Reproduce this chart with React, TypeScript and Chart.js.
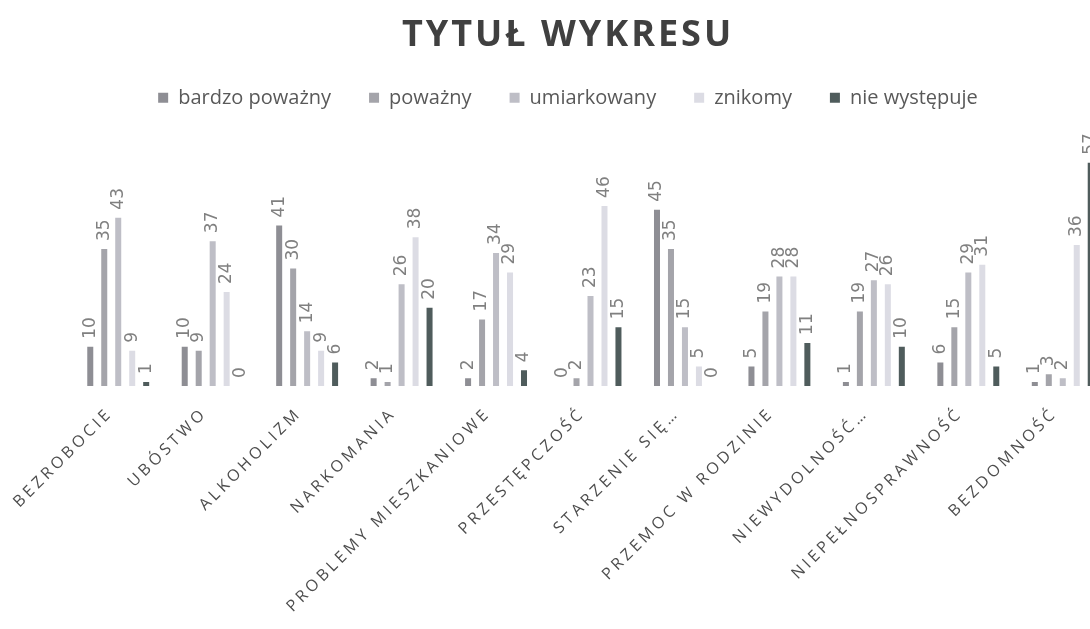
import React, { useEffect, useRef } from 'react';
import { Chart, registerables } from 'chart.js';

Chart.register(...registerables);

const categories = [
  'BEZROBOCIE',
  'UBÓSTWO',
  'ALKOHOLIZM',
  'NARKOMANIA',
  'PROBLEMY MIESZKANIOWE',
  'PRZESTĘPCZOŚĆ',
  'STARZENIE SIĘ…',
  'PRZEMOC W RODZINIE',
  'NIEWYDOLNOŚĆ…',
  'NIEPEŁNOSPRAWNOŚĆ',
  'BEZDOMNOŚĆ',
];

const seriesNames = ['bardzo poważny', 'poważny', 'umiarkowany', 'znikomy', 'nie występuje'];

const bardzoPowazny = [10, 10, 41, 2, 2, 0, 45, 5, 1, 6, 1];
const powazny = [35, 9, 30, 1, 17, 2, 35, 19, 19, 15, 3];
const umiarkowany = [43, 37, 14, 26, 34, 23, 15, 28, 27, 29, 2];
const znikomy = [9, 24, 9, 38, 29, 46, 5, 28, 26, 31, 36];
const nieWystepuje = [1, 0, 6, 20, 4, 15, 0, 11, 10, 5, 57];

const seriesColors = ['#8e8e94', '#a4a4aa', '#bebec6', '#dcdce4', '#4f5c5c'];

const yMin = 0;
const yMax = 68;

function wrapSpacing(obj: any, method: string, spacing: string) {
  if (!obj || obj['__wrapped_' + method]) return;
  const orig = obj[method];
  obj[method] = function (...args: any[]) {
    const ctx = this.ctx as any;
    const prev = ctx.letterSpacing;
    ctx.letterSpacing = spacing;
    try {
      return orig.apply(this, args);
    } finally {
      ctx.letterSpacing = prev;
    }
  };
  obj['__wrapped_' + method] = true;
}

const layoutPlugin = {
  id: 'layoutPlugin',
  beforeUpdate(chart: any) {
    const legend = chart.legend;
    if (legend && !legend.__fitWrapped) {
      const origFit = legend.fit;
      legend.fit = function (...args: any[]) {
        origFit.apply(this, args);
        this.height = 70;
      };
      legend.__fitWrapped = true;
    }
  },
  afterUpdate(chart: any) {
    wrapSpacing(chart.titleBlock, 'draw', '3px');
    wrapSpacing(chart.scales.x, 'drawLabels', '3.6px');
  },
};

const valueLabelPlugin = {
  id: 'valueLabelPlugin',
  afterDatasetsDraw(chart: any) {
    const ctx = chart.ctx;
    chart.data.datasets.forEach((ds: any, i: number) => {
      const meta = chart.getDatasetMeta(i);
      meta.data.forEach((bar: any, j: number) => {
        const v = ds.data[j];
        ctx.save();
        ctx.translate(bar.x, bar.y - 8);
        ctx.rotate(-Math.PI / 2);
        ctx.font = '17px "DejaVu Sans"';
        ctx.fillStyle = '#808080';
        ctx.textAlign = 'left';
        ctx.textBaseline = 'middle';
        ctx.fillText(String(v), 0, 0);
        ctx.restore();
      });
    });
  },
};

export default function App() {
  const canvasRef = useRef<HTMLCanvasElement | null>(null);

  useEffect(() => {
    if (!canvasRef.current) return;
    const allSeries = [bardzoPowazny, powazny, umiarkowany, znikomy, nieWystepuje];
    const chart = new Chart(canvasRef.current, {
      type: 'bar',
      data: {
        labels: categories,
        datasets: allSeries.map((data, i) => ({
          label: seriesNames[i],
          data,
          backgroundColor: seriesColors[i],
          borderWidth: 0,
          categoryPercentage: 0.74,
          barPercentage: 0.43,
        })),
      },
      options: {
        responsive: false,
        animation: false,
        layout: { padding: 0 },
        plugins: {
          title: {
            display: true,
            text: 'TYTUŁ WYKRESU',
            color: '#404040',
            font: { family: '"Open Sans"', size: 36, weight: 'bold', lineHeight: 0.8 },
            padding: { top: 21, bottom: 0 },
          },
          legend: {
            display: true,
            position: 'top',
            labels: {
              boxWidth: 10,
              boxHeight: 10,
              padding: 38,
              color: '#595959',
              font: { family: '"Open Sans"', size: 20 },
            },
          },
          tooltip: { enabled: false },
        },
        scales: {
          x: {
            grid: { display: false },
            border: { display: false },
            ticks: {
              autoSkip: false,
              maxRotation: 45,
              minRotation: 45,
              color: '#4d4d4d',
              font: { family: '"Open Sans"', size: 16 },
              padding: 10,
              labelOffset: -8,
            },
            afterFit: (s: any) => {
              s.height = 243;
            },
          },
          y: {
            display: true,
            min: yMin,
            max: yMax,
            grid: { display: false },
            border: { display: false },
            ticks: { display: false },
            afterFit: (s: any) => {
              s.width = 71;
            },
          },
          y2: {
            display: true,
            position: 'right',
            grid: { display: false },
            border: { display: false },
            ticks: { display: false },
            afterFit: (s: any) => {
              s.width = 26;
            },
          },
        },
      } as any,
      plugins: [layoutPlugin, valueLabelPlugin],
    });
    return () => chart.destroy();
  }, []);

  return (
    <div
      style={{
        position: 'fixed',
        left: 0,
        top: 0,
        width: '100vw',
        height: '100vh',
        overflow: 'hidden',
        background: '#ffffff',
      }}
    >
      <canvas ref={canvasRef} width={1136} height={629} style={{ display: 'block' }} />
    </div>
  );
}
